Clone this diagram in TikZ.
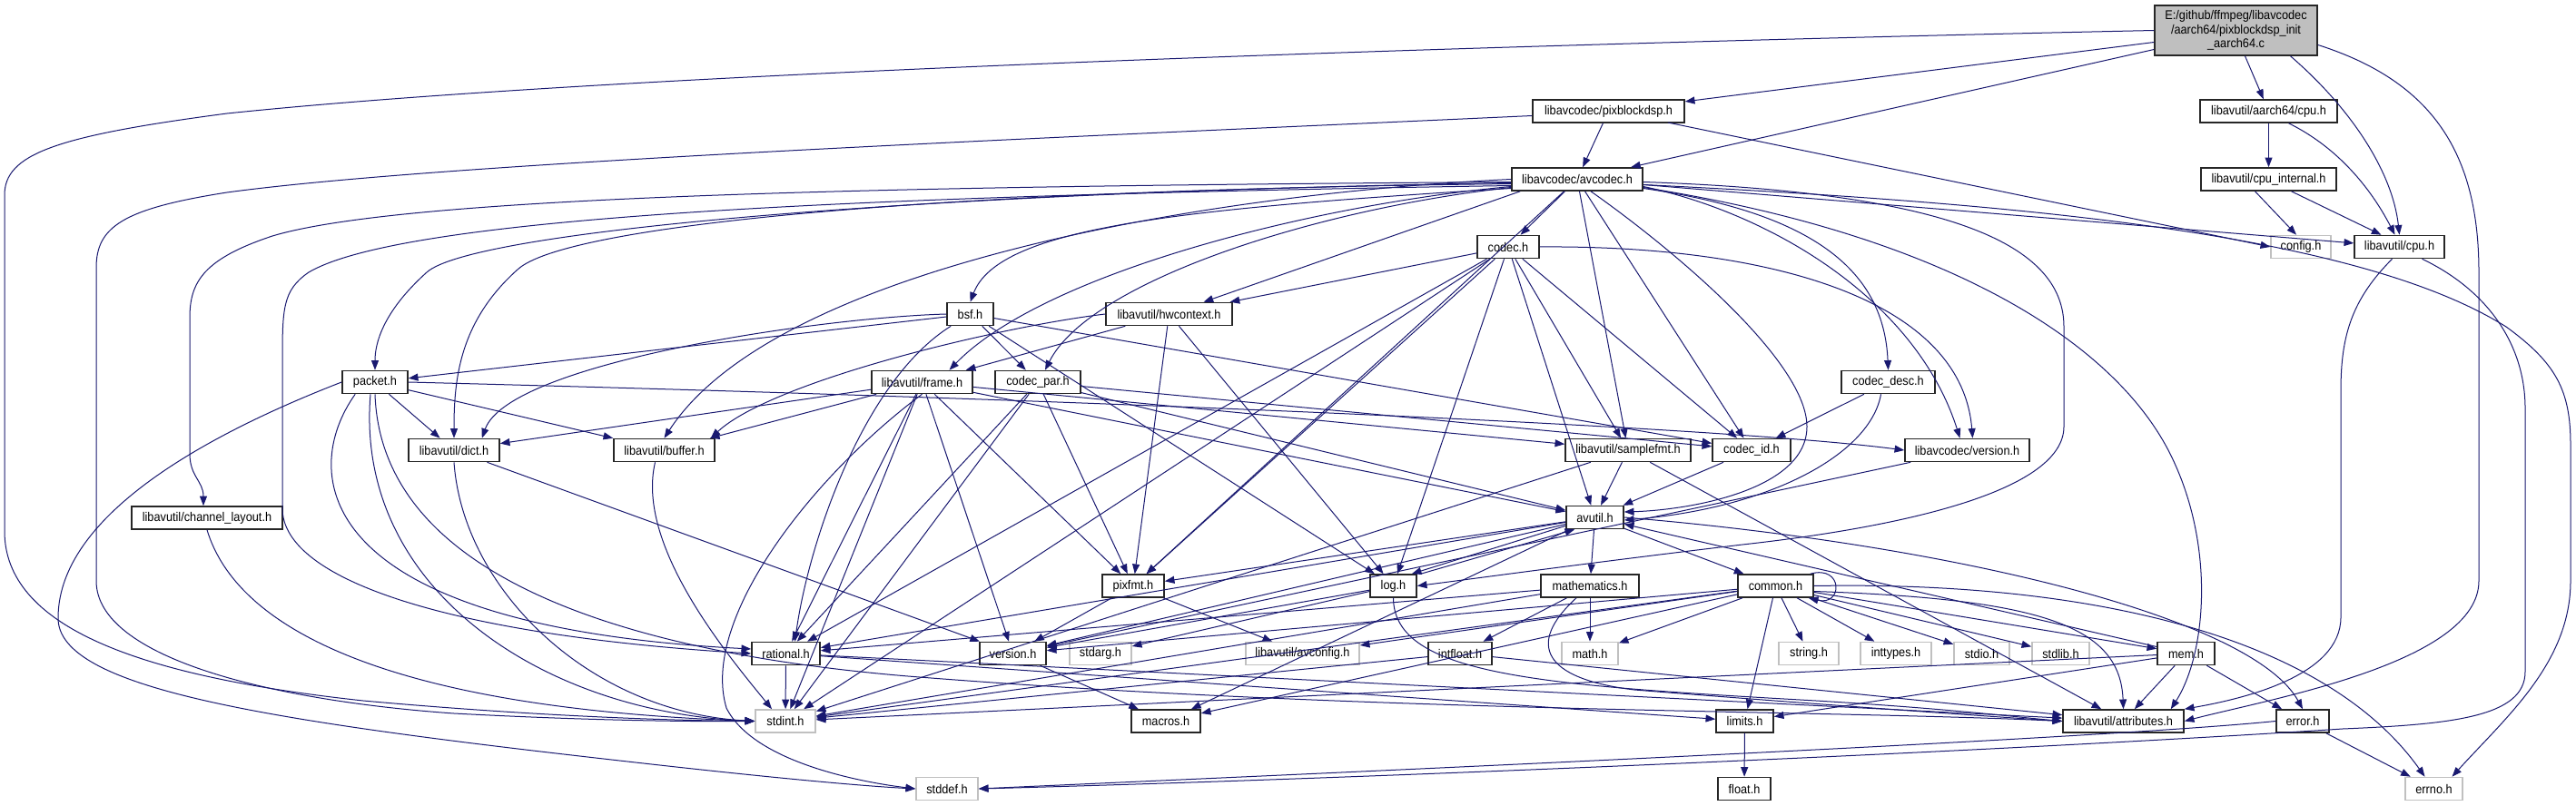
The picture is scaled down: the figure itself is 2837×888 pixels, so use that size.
\documentclass[tikz,border=0pt]{standalone}
\usepackage{fontspec}
\setmainfont{Liberation Sans}[FakeStretch=0.91]
\usetikzlibrary{arrows.meta,calc}
\definecolor{edgec}{HTML}{191970}
\definecolor{graybd}{HTML}{C0C0C0}
\definecolor{mainfill}{HTML}{BFBFBF}
\newcommand\fs{\fontsize{10.5}{11.6}\selectfont}
\newcommand\nd[6][nb]{\node[#1, minimum width={#5*0.75pt}] (#2) at (#3,#4) {#6};}
\begin{document}
\begin{tikzpicture}[x=0.75pt,y=-0.75pt,
  nb/.style={draw=black!85, fill=white, line width=1.2pt, inner sep=0pt, minimum height=18.75pt, font=\fs},
  ng/.style={nb, draw=graybd},
  nm/.style={nb, fill=mainfill, minimum height=41.25pt, align=center},
  e/.style={draw=edgec, line width=0.75pt, -{Triangle[length=8pt,width=6pt]}},
]
\fill[white] (0,0) rectangle (2837,888);
\useasboundingbox (0,0) rectangle (2837,888);

% ---------- nodes ----------
\nd[nm]{main}{2462.5}{33.5}{179}{E:/github/ffmpeg/libavcodec\\/aarch64/pixblockdsp\_init\\\_aarch64.c}
\nd{pixblockdsp}{1771.5}{122.5}{167}{libavcodec/pixblockdsp.h}
\nd{a64cpu}{2498.5}{122.5}{151}{libavutil/aarch64/cpu.h}
\nd{cpuint}{2498.5}{197.5}{149}{libavutil/cpu\_internal.h}
\nd{avcodec}{1737}{197.5}{144}{libavcodec/avcodec.h}
\nd[ng]{config}{2534}{272}{66}{config.h}
\nd{cpu}{2642.5}{272}{99}{libavutil/cpu.h}
\nd{codec}{1661}{272}{68}{codec.h}
\nd{bsf}{1068.5}{346}{51}{bsf.h}
\nd{hwctx}{1287.5}{346}{139}{libavutil/hwcontext.h}
\nd{packet}{413}{421}{72}{packet.h}
\nd{frame}{1015.5}{421}{111}{libavutil/frame.h}
\nd{codecpar}{1143}{421}{94}{codec\_par.h}
\nd{codecdesc}{2079.5}{421}{103}{codec\_desc.h}
\nd{dict}{500}{496}{100}{libavutil/dict.h}
\nd{buffer}{731.5}{496}{111}{libavutil/buffer.h}
\nd{samplefmt}{1793}{496}{138}{libavutil/samplefmt.h}
\nd{codecid}{1929}{496}{86}{codec\_id.h}
\nd{lavcversion}{2166.5}{496}{137}{libavcodec/version.h}
\nd{avutil}{1756.5}{570}{63}{avutil.h}
\nd{chlayout}{228}{570.5}{166}{libavutil/channel\_layout.h}
\nd{pixfmt}{1248}{645.5}{68}{pixfmt.h}
\nd{log}{1534.5}{645.5}{51}{log.h}
\nd{mathematics}{1751}{645.5}{108}{mathematics.h}
\nd{common}{1955.5}{645.5}{83}{common.h}
\nd{rational}{865.5}{720}{75}{rational.h}
\nd{version}{1115.5}{720}{73}{version.h}
\nd[ng]{stdarg}{1212}{720}{68}{stdarg.h}
\nd[ng]{avconfig}{1434.5}{720}{125}{libavutil/avconfig.h}
\nd{intfloat}{1608}{720}{70}{intfloat.h}
\nd[ng]{mathh}{1751}{720}{62}{math.h}
\nd[ng]{string}{1992}{720}{66}{string.h}
\nd[ng]{inttypes}{2088}{720}{78}{inttypes.h}
\nd[ng]{stdio}{2182.5}{720}{61}{stdio.h}
\nd[ng]{stdlib}{2269.5}{720}{63}{stdlib.h}
\nd{mem}{2407.5}{720}{63}{mem.h}
\nd[ng]{stdint}{865}{794.5}{66}{stdint.h}
\nd{macros}{1284}{794.5}{76}{macros.h}
\nd{limits}{1921.5}{794.5}{63}{limits.h}
\nd{attributes}{2338.5}{794.5}{133}{libavutil/attributes.h}
\nd{error}{2536}{794.5}{58}{error.h}
\nd[ng]{stddef}{1043}{869}{68}{stddef.h}
\nd{float}{1921}{869}{58}{float.h}
\nd[ng]{errno}{2680.5}{869}{63}{errno.h}

% ---------- edges ----------
% main
\draw[e] (main.west) .. controls (1700,48) and (700,78) .. (250,125) .. controls (60,150) and (5,170) .. (5,215) -- (5,585) .. controls (5,690) and (150,745) .. (400,772) .. controls (600,790) and (750,794) .. (stdint.west);
\draw[e] ($(main.west)+(0,13)$) -- (pixblockdsp);
\draw[e] ($(main.west)+(0,21)$) -- (avcodec);
\draw[e] ($(main.south)+(10,0)$) -- (a64cpu);
\draw[e] ($(main.south)+(60,0)$) .. controls (2590,120) and (2635,190) .. (cpu.north);
\draw[e] ($(main.east)+(0,16)$) .. controls (2680,90) and (2730,170) .. (2730,300) -- (2730,640) .. controls (2730,730) and (2500,770) .. (attributes.east);
% pixblockdsp
\draw[e] (pixblockdsp) -- (avcodec);
\draw[e] ($(pixblockdsp.east)+(-19,12.5)$) -- (config.west);
\draw[e] ($(pixblockdsp.west)+(0,5)$) .. controls (1200,150) and (500,178) .. (250,212) .. controls (135,230) and (106,250) .. (106,295) -- (106,640) .. controls (106,725) and (300,772) .. (500,786) .. controls (650,794) and (760,795) .. (stdint.west);
% aarch64/cpu.h, cpu_internal.h
\draw[e] (a64cpu) -- (cpuint);
\draw[e] ($(a64cpu.south)+(22,0)$) .. controls (2580,165) and (2615,215) .. ($(cpu.north)+(-5,0)$);
\draw[e] ($(cpuint.south)+(-15,0)$) -- ($(config.north)+(-5,0)$);
\draw[e] ($(cpuint.south)+(25,0)$) -- ($(cpu.north)+(-20,0)$);
% cpu.h
\draw[e] ($(cpu.south)+(-8,0)$) .. controls (2590,330) and (2578,370) .. (2578,430) -- (2578,680) .. controls (2578,745) and (2470,770) .. (attributes.north east);
\draw[e] ($(cpu.south)+(25,0)$) .. controls (2740,320) and (2781,380) .. (2781,450) -- (2781,740) .. controls (2781,790) and (2700,798) .. (2580,803) .. controls (2200,828) and (1500,858) .. (stddef.east);
% avcodec.h
\draw[e] ($(avcodec.east)+(0,6)$) .. controls (2250,225) and (2600,260) .. (2760,360) .. controls (2815,400) and (2831,430) .. (2831,490) -- (2831,640) .. controls (2831,730) and (2760,790) .. ($(errno.north)+(20,0)$);
\draw[e] (avcodec) -- (samplefmt);
\draw[e] ($(avcodec.east)+(0,9)$) .. controls (2150,260) and (2330,380) .. (2390,500) .. controls (2440,600) and (2430,720) .. ($(attributes.north east)+(-15,0)$);
\draw[e] ($(avcodec.south)+(15,0)$) .. controls (1850,280) and (1990,400) .. (1990,470) .. controls (1990,540) and (1860,562) .. ($(avutil.east)+(0,-6)$);
\draw[e] (avcodec.west) .. controls (1300,215) and (850,300) .. (buffer.north);
\draw[e] (avcodec) -- (cpu);
\draw[e] ($(avcodec.west)+(0,3)$) .. controls (1000,205) and (450,215) .. (300,260) .. controls (225,285) and (209,310) .. (209,350) -- (209,500) .. controls (209,525) and (224,530) .. ($(chlayout.north)+(-4,0)$);
\draw[e] ($(avcodec.west)+(0,5)$) .. controls (1000,210) and (620,250) .. (570,297) .. controls (505,355) and (500,420) .. (dict.north);
\draw[e] ($(avcodec.west)+(0,8)$) .. controls (1450,225) and (1150,300) .. ($(frame.north)+(30,0)$);
\draw[e] ($(avcodec.south west)+(10,0)$) -- (hwctx);
\draw[e] ($(avcodec.east)+(0,3)$) .. controls (2150,212) and (2273,270) .. (2273,360) -- (2273,470) .. controls (2273,540) and (2100,580) .. (1919,600) .. controls (1750,620) and (1620,638) .. (log.east);
\draw[e] (avcodec) -- (pixfmt);
\draw[e] ($(avcodec.west)+(0,7)$) .. controls (1000,215) and (450,235) .. (340,300) .. controls (311,320) and (311,340) .. (311,400) -- (311,560) .. controls (311,640) and (500,700) .. (rational.west);
\draw[e] ($(avcodec.west)+(0,10)$) .. controls (1300,230) and (1100,250) .. (bsf.north);
\draw[e] (avcodec) -- (codec);
\draw[e] ($(avcodec.east)+(0,10)$) .. controls (2000,235) and (2075,300) .. (codecdesc.north);
\draw[e] ($(avcodec.west)+(0,9)$) .. controls (1450,230) and (1200,310) .. ($(codecpar.north)+(8,0)$);
\draw[e] (avcodec) -- (codecid);
\draw[e] ($(avcodec.west)+(0,4)$) .. controls (1000,212) and (520,255) .. (470,300) .. controls (420,345) and (413,380) .. (packet.north);
\draw[e] ($(avcodec.east)+(0,8)$) .. controls (1950,235) and (2110,330) .. ($(lavcversion.north)+(-8,0)$);
% codec.h
\draw[e] (codec) -- (stdint);
\draw[e] (codec) -- (avutil);
\draw[e] (codec) -- (hwctx);
\draw[e] (codec) -- (log);
\draw[e] (codec) -- (pixfmt);
\draw[e] (codec) -- (rational);
\draw[e] (codec) -- (samplefmt);
\draw[e] (codec) -- (codecid);
\draw[e] (codec.east) .. controls (1950,270) and (2160,330) .. ($(lavcversion.north)+(6,0)$);
% bsf.h
\draw[e] (bsf) -- (packet);
\draw[e] (bsf.west) .. controls (900,350) and (560,400) .. ($(dict.north east)+(-20,0)$);
\draw[e] (bsf) -- (log);
\draw[e] ($(bsf.south west)+(5,0)$) .. controls (950,420) and (890,600) .. ($(rational.north)+(10,0)$);
\draw[e] (bsf) -- (codecid);
\draw[e] (bsf) -- (codecpar);
% hwcontext.h
\draw[e] (hwctx.west) .. controls (1100,360) and (850,420) .. ($(buffer.north east)+(-5,0)$);
\draw[e] (hwctx) -- (frame);
\draw[e] (hwctx) -- (log);
\draw[e] (hwctx) -- (pixfmt);
% packet.h
\draw[e] (packet.west) .. controls (250,470) and (65,560) .. (64,680) .. controls (62,760) and (300,795) .. (700,840) .. controls (850,857) and (950,866) .. (stddef.west);
\draw[e] ($(packet.south)+(-5,0)$) .. controls (390,650) and (600,785) .. (stdint.west);
\draw[e] ($(packet.south west)+(15,0)$) .. controls (330,520) and (340,690) .. ($(rational.west)+(0,-5)$);
\draw[e] (packet.south) .. controls (420,640) and (700,720) .. (1000,745) .. controls (1500,785) and (2000,782) .. (attributes.west);
\draw[e] (packet) -- (buffer);
\draw[e] (packet) -- (dict);
\draw[e] (packet.east) .. controls (1200,440) and (1900,470) .. (lavcversion.west);
% frame.h
\draw[e] (frame.south) .. controls (900,520) and (770,680) .. (800,780) .. controls (830,840) and (950,862) .. (stddef.west);
\draw[e] (frame) -- (stdint);
\draw[e] (frame) -- (avutil);
\draw[e] (frame) -- (buffer);
\draw[e] (frame) -- (dict);
\draw[e] (frame) -- (rational);
\draw[e] (frame) -- (samplefmt);
\draw[e] (frame) -- (pixfmt);
\draw[e] (frame) -- (version);
% codec_par.h
\draw[e] (codecpar) -- (stdint);
\draw[e] (codecpar) -- (avutil);
\draw[e] (codecpar) -- (rational);
\draw[e] (codecpar) -- (pixfmt);
\draw[e] (codecpar) -- (codecid);
% codec_desc.h
\draw[e] ($(codecdesc.south)+(-8,0)$) .. controls (2060,500) and (1950,560) .. ($(avutil.east)+(0,3)$);
\draw[e] (codecdesc) -- (codecid);
% dict.h, buffer.h
\draw[e] (dict.south) .. controls (510,650) and (650,785) .. (stdint.west);
\draw[e] (dict) -- (version);
\draw[e] ($(buffer.south)+(-10,0)$) .. controls (700,600) and (800,720) .. ($(stdint.north)+(-15,0)$);
% samplefmt.h, codec_id.h, version.h, channel_layout.h
\draw[e] (samplefmt) -- (avutil);
\draw[e] (samplefmt) -- (attributes);
\draw[e] (samplefmt) -- (stdint);
\draw[e] (codecid) -- (avutil);
\draw[e] (lavcversion) -- (version);
\draw[e] (chlayout.south) .. controls (260,690) and (420,780) .. (stdint.west);
% avutil.h
\draw[e] (avutil) -- (common);
\draw[e] (avutil.east) .. controls (2150,600) and (2480,680) .. (error.north);
\draw[e] (avutil) -- (rational);
\draw[e] (avutil) -- (version);
\draw[e] (avutil) -- (macros);
\draw[e] (avutil) -- (mathematics);
\draw[e] ($(avutil.south west)+(0,-4)$) -- ($(log.north east)+(-6,0)$);
\draw[e] (avutil) -- (pixfmt);
% log.h
\draw[e] ($(log.north east)+(4,0)$) -- ($(avutil.south west)+(10,0)$);
\draw[e] (log) -- (stdarg);
\draw[e] (log.south) .. controls (1535,745) and (1700,755) .. (2000,772) .. controls (2150,781) and (2220,790) .. (attributes.west);
\draw[e] (log) -- (version);
% pixfmt.h
\draw[e] (pixfmt) -- (avconfig);
\draw[e] (pixfmt) -- (version);
% mathematics.h
\draw[e] (mathematics) -- (stdint);
\draw[e] (mathematics) -- (mathh);
\draw[e] ($(mathematics.south)+(-15,0)$) .. controls (1680,710) and (1700,748) .. (1800,760) .. controls (2000,776) and (2200,790) .. (attributes.west);
\draw[e] (mathematics) -- (rational);
\draw[e] (mathematics) -- (intfloat);
% common.h
\draw[e] (common.east) .. controls (2300,640) and (2560,700) .. ($(errno.north)+(-10,0)$);
\draw[e] (common) -- (inttypes);
\draw[e] (common) -- (limits);
\draw[e] (common) -- (mathh);
\draw[e] (common) -- (stdint);
\draw[e] (common) -- (stdio);
\draw[e] (common) -- (stdlib);
\draw[e] (common) -- (string);
\draw[e] ($(common.east)+(0,6)$) .. controls (2250,660) and (2335,690) .. (attributes.north);
\draw[e] (common) -- (macros);
\draw[e] (common) -- (version);
\draw[e] (common) -- (avconfig);
\draw[e] (common) -- (mem);
\draw[e] ($(common.north east)+(-4,0)$) .. controls (2030,622) and (2030,668) .. ($(common.south east)+(-6,0)$);
% rational.h, version.h, intfloat.h
\draw[e] (rational) -- (stdint);
\draw[e] (rational) -- (limits);
\draw[e] (rational) -- (attributes);
\draw[e] (version) -- (macros);
\draw[e] (intfloat) -- (stdint);
\draw[e] (intfloat) -- (attributes);
% mem.h
\draw[e] (mem) -- (limits);
\draw[e] (mem) -- (stdint);
\draw[e] (mem) -- (attributes);
\draw[e] (mem) -- (error);
\draw[e] (mem) -- (avutil);
% error.h, limits.h
\draw[e] (error) -- (errno);
\draw[e] (error.west) .. controls (2300,815) and (1500,850) .. (stddef.east);
\draw[e] (limits) -- (float);
\end{tikzpicture}
\end{document}
